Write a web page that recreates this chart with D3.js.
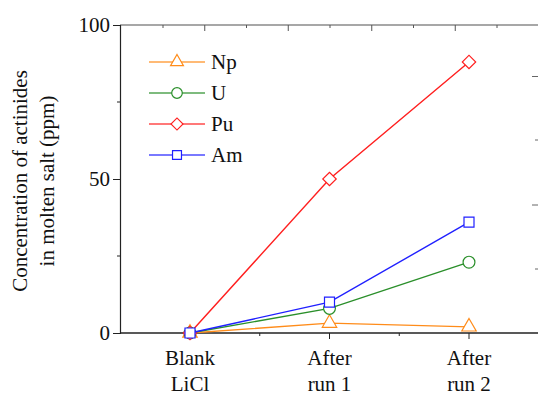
<!DOCTYPE html>
<html>
<head>
<meta charset="utf-8">
<script src="https://cdn.jsdelivr.net/npm/d3@7"></script>
</head>
<body style="margin:0; background:#fff">
<div id="chart"></div>
<script>
const categories = [["Blank", "LiCl"], ["After", "run 1"], ["After", "run 2"]];
const yTicks = [0, 50, 100];
const np = [0, 3.2, 2];
const u = [0, 8, 23];
const pu = [0, 50, 88];
const am = [0, 10, 36];

const series = [
  {name: "Np", values: np, color: "#ff8c1a", symbol: d3.symbolTriangle, size: 90, rot: 0},
  {name: "U", values: u, color: "#2a8f2a", symbol: d3.symbolCircle, size: 110, rot: 0},
  {name: "Pu", values: pu, color: "#ff1f1f", symbol: d3.symbolSquare, size: 90, rot: 45},
  {name: "Am", values: am, color: "#2020ff", symbol: d3.symbolSquare, size: 100, rot: 0}
];

const width = 538, height = 396;
const margin = {left: 120, top: 25, right: 0, bottom: 63};
const serifFont = "Liberation Serif";

const svg = d3.select("#chart").append("svg")
  .attr("width", width)
  .attr("height", height);

const x = d3.scalePoint()
  .domain(d3.range(categories.length))
  .range([190, 469]);

const y = d3.scaleLinear()
  .domain([0, 100])
  .range([height - margin.bottom, margin.top]);

// top frame line, cut off at the right edge
const topG = svg.append("g");
topG.append("line")
  .attr("x1", margin.left).attr("x2", width)
  .attr("y1", y(100)).attr("y2", y(100))
  .attr("stroke", "#8a8a8a").attr("stroke-width", 1.5);
d3.range(0, 10).forEach(i => {
  const xx = 163 + i * 41.75;
  topG.append("line")
    .attr("x1", xx).attr("x2", xx)
    .attr("y1", y(100)).attr("y2", y(100) + (i % 2 === 1 ? 6 : 3))
    .attr("stroke", "#555").attr("stroke-width", 1);
});

// right-edge ticks of the cropped second axis
[[76.5, 6], [140, 3], [205, 6], [269, 3]].forEach(([yy, len]) => {
  svg.append("line")
    .attr("x1", width).attr("x2", width - len)
    .attr("y1", yy).attr("y2", yy)
    .attr("stroke", "#666").attr("stroke-width", 1);
});

// left axis
const yAxis = svg.append("g")
  .attr("transform", `translate(${margin.left},0)`)
  .call(d3.axisLeft(y).tickValues(yTicks).tickSize(7).tickPadding(3));
yAxis.attr("font-family", serifFont).attr("font-size", 21);
yAxis.select(".domain").attr("stroke", "#222").attr("stroke-width", 1.2);
yAxis.selectAll(".tick line").attr("stroke", "#222");
yAxis.selectAll("text").attr("fill", "#111");
yAxis.selectAll(".minor").data([25, 75]).enter().append("line")
  .attr("x1", 0).attr("x2", -3)
  .attr("y1", d => y(d)).attr("y2", d => y(d))
  .attr("stroke", "#222");

// bottom axis
const xAxisG = svg.append("g")
  .attr("transform", `translate(0,${y(0)})`);
xAxisG.append("line")
  .attr("x1", margin.left).attr("x2", width)
  .attr("stroke", "#222").attr("stroke-width", 1.4);
x.domain().forEach(i => {
  xAxisG.append("line")
    .attr("x1", x(i)).attr("x2", x(i)).attr("y1", 0).attr("y2", 6)
    .attr("stroke", "#222");
});
[0.5, 1.5].forEach(m => {
  const xx = x(0) + m * (x(1) - x(0));
  xAxisG.append("line")
    .attr("x1", xx).attr("x2", xx).attr("y1", 0).attr("y2", 3)
    .attr("stroke", "#222");
});
categories.forEach((lines, i) => {
  const t = xAxisG.append("text")
    .attr("text-anchor", "middle")
    .attr("font-family", serifFont)
    .attr("font-size", 21)
    .attr("fill", "#111");
  lines.forEach((l, j) => {
    t.append("tspan").attr("x", x(i)).attr("y", 32 + j * 26).text(l);
  });
});

// y label
const yl = svg.append("text")
  .attr("transform", `translate(0,${(y(0) + y(100)) / 2 + 2}) rotate(-90)`)
  .attr("text-anchor", "middle")
  .attr("font-family", serifFont)
  .attr("font-size", 21)
  .attr("fill", "#111");
yl.append("tspan").attr("x", 0).attr("y", 27).text("Concentration of actinides");
yl.append("tspan").attr("x", 0).attr("y", 54).text("in molten salt (ppm)");

// series
const line = d3.line().x((d, i) => x(i)).y(d => y(d));
series.forEach(s => {
  const g = svg.append("g");
  g.append("path")
    .attr("d", line(s.values))
    .attr("fill", "none")
    .attr("stroke", s.color)
    .attr("stroke-width", 1.4);
  g.selectAll("path.m").data(s.values).enter().append("path")
    .attr("class", "m")
    .attr("transform", (d, i) => `translate(${x(i)},${y(d)}) rotate(${s.rot})`)
    .attr("d", d3.symbol().type(s.symbol).size(s.size))
    .attr("fill", "#fff")
    .attr("stroke", s.color)
    .attr("stroke-width", 1.2);
});

// legend
const legend = svg.append("g");
series.forEach((s, i) => {
  const yy = 62 + i * 31;
  legend.append("line")
    .attr("x1", 149).attr("x2", 205)
    .attr("y1", yy).attr("y2", yy)
    .attr("stroke", s.color).attr("stroke-width", 1.4).attr("opacity", 0.8);
  legend.append("path")
    .attr("transform", `translate(177,${yy}) rotate(${s.rot})`)
    .attr("d", d3.symbol().type(s.symbol).size(s.size * 0.8))
    .attr("fill", "#fff")
    .attr("stroke", s.color)
    .attr("stroke-width", 1.2);
  legend.append("text")
    .attr("x", 211).attr("y", yy + 7)
    .attr("font-family", serifFont)
    .attr("font-size", 21)
    .attr("fill", "#111")
    .text(s.name);
});
</script>
</body>
</html>
